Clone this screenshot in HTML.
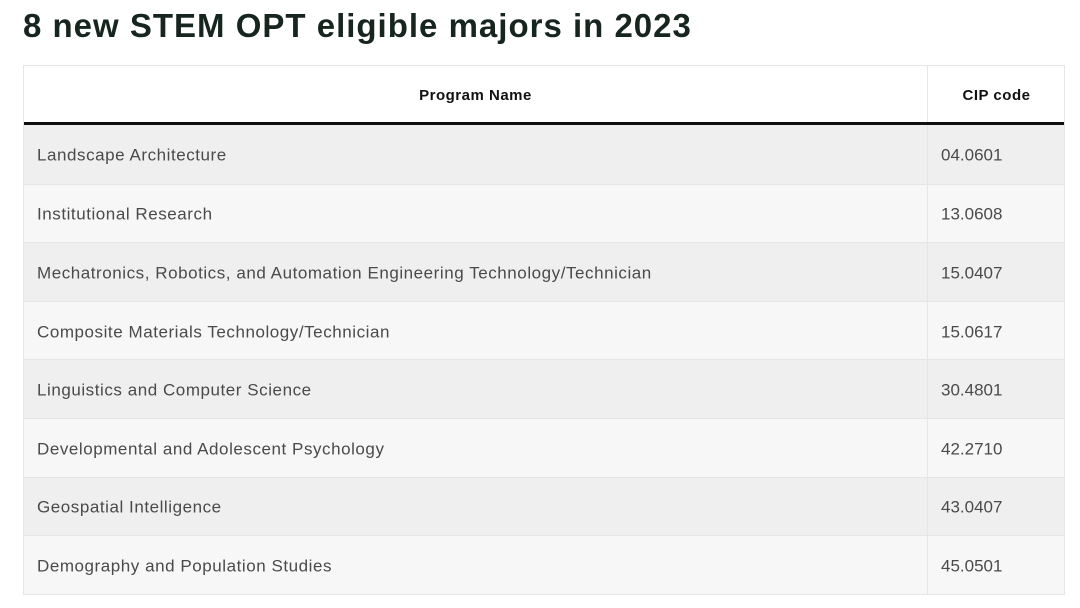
<!DOCTYPE html>
<html><head><meta charset="utf-8"><style>
body{margin:0;width:1080px;height:608px;background:#fff;font-family:"Liberation Sans",sans-serif;position:relative;overflow:hidden}
h1{position:absolute;left:23px;top:7px;margin:0;font-size:33px;font-weight:bold;color:#17251f;letter-spacing:1px}
.t{position:absolute;left:23px;top:65px;width:1042px;border:1px solid #e6e6e6;box-sizing:border-box}
.r{position:relative;height:58.6px;border-top:1px solid #e6e6e6;box-sizing:border-box;font-size:17px;color:#4a4a4a;letter-spacing:0.55px}
.r span{position:absolute;top:50%;transform:translateY(-42%)}
.a{left:13px}.b{left:917px;letter-spacing:0}
.r:before{content:"";position:absolute;left:903px;top:0;bottom:0;border-left:1px solid #e6e6e6}
.h{height:59px;border-top:none;border-bottom:3px solid #111;background:#fff;color:#111;font-weight:bold;font-size:15px;letter-spacing:0.5px}
.h .a{left:0;width:903px;text-align:center}.h .b{left:904px;width:137px;text-align:center;letter-spacing:0.5px}
.o{background:#efefef}.e{background:#f7f7f7}
</style></head><body>
<h1>8 new STEM OPT eligible majors in 2023</h1>
<div class="t">
<div class="r h"><span class="a">Program Name</span><span class="b">CIP code</span></div>
<div class="r o" style="border-top:none"><span class="a">Landscape Architecture</span><span class="b">04.0601</span></div>
<div class="r e"><span class="a">Institutional Research</span><span class="b">13.0608</span></div>
<div class="r o"><span class="a">Mechatronics, Robotics, and Automation Engineering Technology/Technician</span><span class="b">15.0407</span></div>
<div class="r e"><span class="a">Composite Materials Technology/Technician</span><span class="b">15.0617</span></div>
<div class="r o"><span class="a">Linguistics and Computer Science</span><span class="b">30.4801</span></div>
<div class="r e"><span class="a">Developmental and Adolescent Psychology</span><span class="b">42.2710</span></div>
<div class="r o"><span class="a">Geospatial Intelligence</span><span class="b">43.0407</span></div>
<div class="r e"><span class="a">Demography and Population Studies</span><span class="b">45.0501</span></div>
</div>
</body></html>
